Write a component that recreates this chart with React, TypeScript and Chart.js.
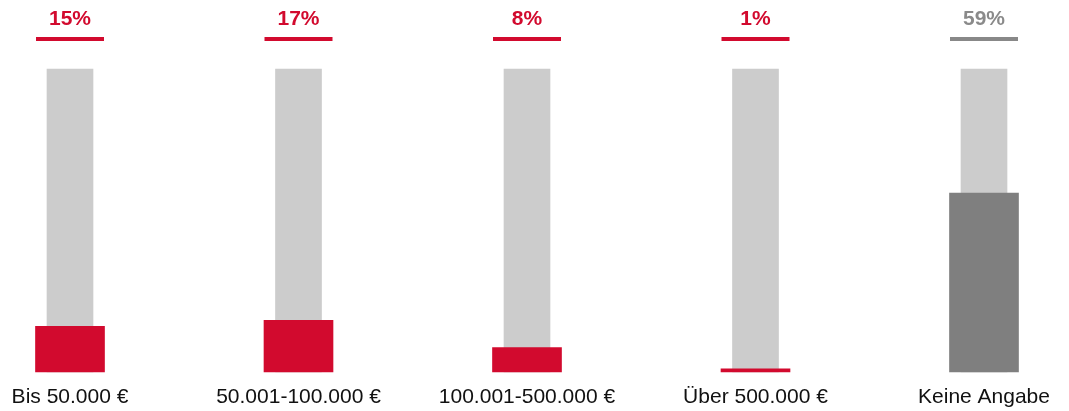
import React, { useEffect, useRef } from "react";
import { Chart, registerables } from "chart.js";

Chart.register(...registerables);

const categories = ["Bis 50.000 €", "50.001-100.000 €", "100.001-500.000 €", "Über 500.000 €", "Keine Angabe"];
const values = [15, 17, 8, 1, 59];
const fullScale = [100, 100, 100, 100, 100];
const valueLabels = ["15%", "17%", "8%", "1%", "59%"];

const RED = "#D20A2E";
const DARK = "#7F7F7F";
const barColors = [RED, RED, RED, RED, DARK];
const labelColors = [RED, RED, RED, RED, "#8A8A8A"];
const FONT = "'Liberation Sans', Arial, sans-serif";

const topLabels = {
  id: "topLabels",
  afterDatasetsDraw(chart: any) {
    const ctx = chart.ctx;
    const xs = chart.scales.x;
    ctx.save();
    for (let i = 0; i < categories.length; i++) {
      const x = xs.getPixelForValue(i);
      ctx.strokeStyle = i === 4 ? "#888888" : RED;
      ctx.lineWidth = 4;
      ctx.beginPath();
      ctx.moveTo(x - 34, 31);
      ctx.lineTo(x + 34, 31);
      ctx.stroke();
      ctx.fillStyle = labelColors[i];
      ctx.font = `bold 21px ${FONT}`;
      ctx.textAlign = "center";
      ctx.textBaseline = "alphabetic";
      ctx.fillText(valueLabels[i], x, 17);
    }
    ctx.restore();
  },
};

export default function App() {
  const ref = useRef<HTMLCanvasElement>(null);
  useEffect(() => {
    if (!ref.current) return;
    const chart = new Chart(ref.current, {
      type: "bar",
      data: {
        labels: categories,
        datasets: [
          {
            data: values,
            backgroundColor: barColors,
            barThickness: 69,
            grouped: false,
            clip: false as any,
            order: 0,
          },
          {
            data: fullScale,
            backgroundColor: "#CCCCCC",
            barThickness: 46,
            grouped: false,
            clip: false as any,
            order: 1,
          },
        ],
      },
      options: {
        animation: false,
        responsive: false,
        devicePixelRatio: 1,
        layout: { padding: { left: 62, right: 77, top: 61, bottom: 1 } },
        plugins: { legend: { display: false }, tooltip: { enabled: false } },
        scales: {
          x: {
            offset: false,
            grid: { display: false, drawTicks: false },
            border: { display: false },
            afterFit: (scale: any) => {
              scale.paddingLeft = 0;
              scale.paddingRight = 0;
            },
            ticks: {
              padding: 13,
              color: "#111111",
              font: { family: FONT, size: 21 },
              maxRotation: 0,
              autoSkip: false,
            },
          },
          y: { display: false, min: 0, max: 100 },
        },
      },
      plugins: [topLabels],
    });
    return () => chart.destroy();
  }, []);
  return (
    <div style={{ width: 1053, height: 416 }}>
      <canvas ref={ref} width={1053} height={416} style={{ display: "block" }} />
    </div>
  );
}
